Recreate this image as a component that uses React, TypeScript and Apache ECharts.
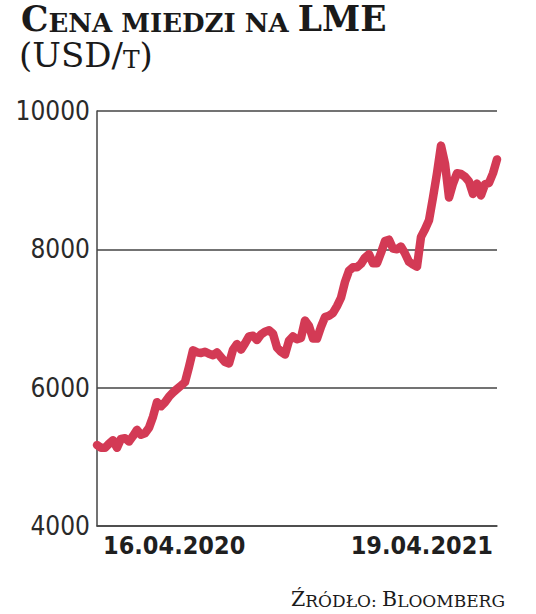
import React, { useEffect, useRef } from "react";
import * as echarts from "echarts";

const startLabel = "16.04.2020";
const endLabel = "19.04.2021";
const yTicks = [4000, 6000, 8000, 10000];
const prices = [
  5170, 5130, 5130, 5190, 5240, 5130, 5260, 5270, 5220, 5300,
  5390, 5320, 5340, 5420, 5580, 5790, 5730, 5790, 5870, 5930,
  5980, 6030, 6080, 6300, 6540, 6510, 6500, 6520, 6490, 6470,
  6510, 6440, 6370, 6350, 6550, 6630, 6550, 6640, 6740, 6750,
  6690, 6770, 6810, 6830, 6780, 6580, 6520, 6480, 6680, 6740,
  6700, 6720, 6970, 6890, 6710, 6710, 6880, 7020, 7040, 7080,
  7180, 7300, 7530, 7690, 7740, 7740, 7790, 7880, 7930, 7800,
  7800, 7950, 8120, 8140, 8010, 8000, 8040, 7940, 7820, 7780,
  7750, 8180, 8290, 8420, 8750, 9100, 9500, 9240, 8750, 8950,
  9100, 9090, 9050, 8980, 8800, 8950, 8780, 8940, 8960, 9100,
  9300,
];
const categories = prices.map((_, i) => String(i));

export default function App() {
  const ref = useRef<HTMLDivElement>(null);
  useEffect(() => {
    if (!ref.current) return;
    const chart = echarts.init(ref.current, undefined, { renderer: "svg" });
    const last = prices.length - 1;
    const serif = "'DejaVu Serif', serif";
    const narrow = "'DejaVu Sans Condensed', 'Liberation Sans Narrow', sans-serif";
    const ink = "#1a1a1a";
    chart.setOption({
      animation: false,
      backgroundColor: "#ffffff",
      title: [
        {
          left: 21,
          top: 0,
          padding: 0,
          text: "{a|C}{b|ENA MIEDZI NA }{a|LME}",
          textStyle: {
            rich: {
              a: { fontFamily: serif, fontWeight: "bold", fontSize: 34.5, color: ink, lineHeight: 36, verticalAlign: "bottom" },
              b: { fontFamily: serif, fontWeight: "bold", fontSize: 26, color: ink, lineHeight: 30.1, verticalAlign: "bottom" },
            },
          },
        },
        {
          left: 19,
          top: 38,
          padding: 0,
          text: "{a|(USD/}{b|T}{a|)}",
          textStyle: {
            rich: {
              a: { fontFamily: serif, fontWeight: "normal", fontSize: 34, color: ink, lineHeight: 34, verticalAlign: "bottom" },
              b: { fontFamily: serif, fontWeight: "normal", fontSize: 25, color: ink, lineHeight: 27.8, verticalAlign: "bottom" },
            },
          },
        },
        {
          right: 31,
          top: 585,
          padding: 0,
          text: "{a|Ź}{b|RÓDŁO: }{a|B}{b|LOOMBERG}",
          textStyle: {
            rich: {
              a: { fontFamily: serif, fontWeight: "normal", fontSize: 20.5, color: ink, lineHeight: 24, verticalAlign: "bottom" },
              b: { fontFamily: serif, fontWeight: "normal", fontSize: 17, color: ink, lineHeight: 21.6, verticalAlign: "bottom" },
            },
          },
        },
      ],
      grid: { left: 97, right: 39, top: 111, bottom: 88, containLabel: false },
      xAxis: {
        type: "category",
        data: categories,
        boundaryGap: false,
        axisLine: { show: true, lineStyle: { color: "#444", width: 1.5 } },
        axisTick: { show: false },
        splitLine: { show: false },
        axisLabel: {
          interval: (i: number) => i === 0 || i === last,
          formatter: (_: string, i: number) => (i === 0 ? startLabel : i === last ? endLabel : ""),
          alignMinLabel: "left",
          alignMaxLabel: "right",
          margin: 7,
          fontFamily: narrow,
          fontWeight: "bold",
          fontSize: 25,
          color: "#1f1f1f",
          padding: [0, 4, 0, 6],
        },
      },
      yAxis: {
        type: "value",
        min: yTicks[0],
        max: yTicks[yTicks.length - 1],
        interval: 2000,
        axisLine: { show: true, lineStyle: { color: "#444", width: 1.5 } },
        axisTick: { show: false },
        splitLine: { show: true, lineStyle: { color: "#444", width: 1.5 } },
        axisLabel: {
          margin: 7,
          formatter: (v: number) => String(v),
          fontFamily: narrow,
          fontSize: 26,
          color: "#2a2a2a",
        },
      },
      series: [
        {
          type: "line",
          data: prices,
          showSymbol: false,
          smooth: false,
          lineStyle: { color: "#d33a55", width: 8.5, cap: "round", join: "round" },
        },
      ],
    });
    return () => chart.dispose();
  }, []);
  return (
    <div
      ref={ref}
      style={{ position: "fixed", left: 0, top: 0, width: 536, height: 614, background: "#fff" }}
    />
  );
}
